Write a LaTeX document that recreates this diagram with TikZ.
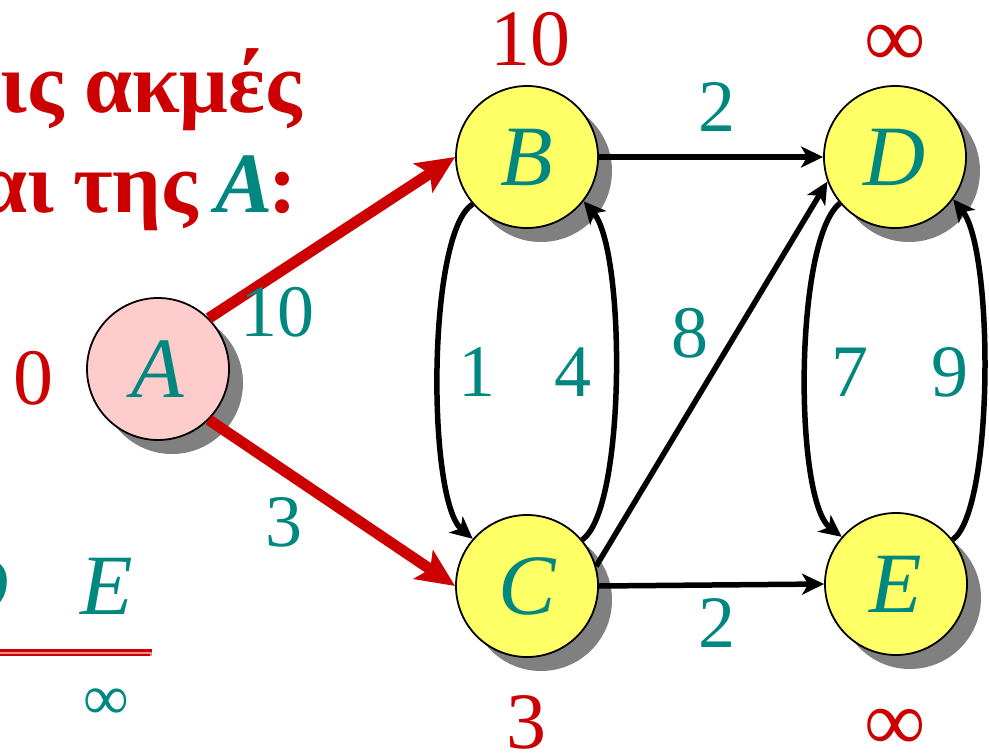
\documentclass[tikz,border=0pt]{standalone}
\usepackage{fontspec}
\setmainfont{Liberation Serif}
\usetikzlibrary{arrows.meta,shadows}
\definecolor{myred}{RGB}{204,0,0}
\definecolor{myteal}{RGB}{0,136,128}
\definecolor{myyellow}{RGB}{255,255,102}
\definecolor{mypink}{RGB}{255,204,204}
\definecolor{shadowgray}{RGB}{128,128,128}
\begin{document}
\begin{tikzpicture}[x=1pt,y=-1pt,
  vertex/.style={circle, draw=black, line width=1.8pt, minimum size=142pt, inner sep=0pt,
    text=myteal, font=\fontsize{86}{90}\selectfont\itshape,
    drop shadow={shadow xshift=14pt, shadow yshift=-14pt, fill=shadowgray, opacity=1}},
  yvertex/.style={vertex, fill=myyellow},
  pvertex/.style={vertex, fill=mypink},
  wlabel/.style={text=myteal, font=\fontsize{74}{80}\selectfont, inner sep=0pt},
  dlabel/.style={text=myred, font=\fontsize{80}{86}\selectfont, inner sep=0pt},
  inflabel/.style={text=myred, font=\fontsize{86}{90}\selectfont, inner sep=0pt},
  titletext/.style={text=myred, font=\fontsize{86}{90}\selectfont\bfseries, inner sep=0pt, anchor=base east},
  tablehead/.style={text=myteal, font=\fontsize{86}{90}\selectfont\itshape, inner sep=0pt},
  redarrow/.style={draw=myred, line width=11pt, -{Stealth[length=38pt,width=34pt,inset=8pt]}},
  blackarrow/.style={draw=black, line width=5.5pt, -{Stealth[length=22pt,width=21pt,inset=6pt]}}
]
\useasboundingbox (0,0) rectangle (989,755);
\clip (0,0) rectangle (989,755);

% title text (cut at the left edge)
\node[titletext] (t1a) at (64,112) {τις};
\node[titletext] (t1b) at (302,112) {ακμές};
\node[titletext] (t2a) at (54,212) {αι};
\node[titletext] (t2b) at (198,212) {της};
\node[titletext] (t2c) at (297,212) {\textcolor{myteal}{\textit{A}}\kern-5pt:};

% table fragment bottom-left
\node[tablehead] (hd) at (-22,586) {D};
\node[tablehead] (he) at (107,586) {E};
\fill[myred!45] (0,649) rectangle (152,656);
\draw[myred, line width=2.6pt] (0,650.3) -- (152,650.3);
\draw[myred, line width=1.8pt] (0,655) -- (150,655);
\node[text=myteal, font=\fontsize{64}{70}\selectfont, inner sep=0pt] (hinf) at (106,704) {∞};

% vertices
\node[pvertex] (A) at (158,369) {A};
\node[yvertex] (B) at (527,157) {B};
\node[yvertex] (C) at (527,586) {C};
\node[yvertex] (D) at (895,157) {D};
\node[yvertex] (E) at (896,584) {E};

% edges
\draw[redarrow] (A.45) -- (B.west);
\draw[redarrow] (A.-45) -- (C.west);
\draw[blackarrow] (B.east) -- (D.west);
\draw[blackarrow] (C.east) -- (E.west);
\draw[blackarrow] (C.16) -- (D.200);
\draw[blackarrow] (B.221) .. controls (427,232) and (427,500) .. (C.139);
\draw[blackarrow] (C.40) .. controls (626,510) and (626,250) .. (B.-38);
\draw[blackarrow] (D.220) .. controls (794,240) and (794,500) .. (E.139);
\draw[blackarrow] (E.38) .. controls (994,510) and (994,250) .. (D.-36);

% weights
\node[wlabel] (w10) at (277,312) {10};
\node[wlabel] (w3) at (284,522) {3};
\node[wlabel] (w2a) at (717,107) {2};
\node[wlabel] (w2b) at (717,623) {2};
\node[wlabel] (w1) at (477,372) {1};
\node[wlabel] (w4) at (573,372) {4};
\node[wlabel] (w8) at (690,333) {8};
\node[wlabel] (w7) at (850,372) {7};
\node[wlabel] (w9) at (950,372) {9};

% distances
\node[dlabel] (dA) at (33,378) {0};
\node[dlabel] (dB) at (530,39) {10};
\node[dlabel] (dC) at (526,722) {3};
\node[inflabel] (dD) at (895,46) {∞};
\node[inflabel] (dE) at (895,730) {∞};
\end{tikzpicture}
\end{document}
